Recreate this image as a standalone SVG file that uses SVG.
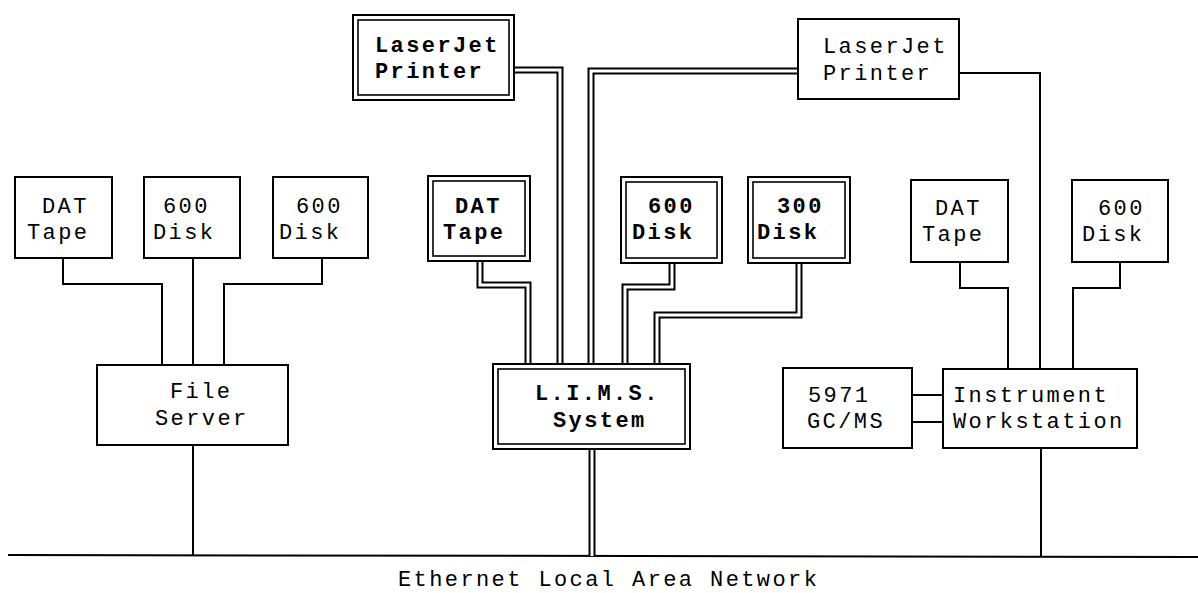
<svg xmlns="http://www.w3.org/2000/svg" width="1198" height="593" viewBox="0 0 1198 593">
<style>
.bx{fill:#fff;stroke:#000;stroke-width:2}
.in{fill:none;stroke:#000;stroke-width:1.6}
.w{fill:none;stroke:#000;stroke-width:2}
.dbo{fill:none;stroke:#000;stroke-width:7;stroke-linejoin:miter}
.dbi{fill:none;stroke:#fff;stroke-width:3;stroke-linejoin:miter}
text{font-family:"Liberation Mono","Courier New",monospace;font-size:22px;letter-spacing:2.4px;fill:#000}
.b{font-weight:bold}
</style>
<rect width="1198" height="593" fill="#fff"/>
<g id="connectors">
<path class="w" d="M63,258 V284 H162 V365 M193,258 V365 M322,258 V284 H224 V365 M193,445 V555"/>
<path class="w" d="M959,73 H1040 V369 M960,262 V288 H1008 V369 M1120,262 V288 H1073 V369 M912,395 H943 M912,422 H943 M1041,448 V557"/>
<path class="w" d="M8,555 L1198,557" stroke-width="2.5"/>
<g id="double-lines">
<path class="dbo" d="M514,70 H560 V364 M798,71 H591 V364 M480,261 V285 H528 V364 M672,263 V287 H625 V364 M799,263 V315 H657 V364 M592,449 V556"/>
<path class="dbi" d="M514,70 H560 V364 M798,71 H591 V364 M480,261 V285 H528 V364 M672,263 V287 H625 V364 M799,263 V315 H657 V364 M592,449 V556"/>
</g>
</g>
<g id="dat-left"><rect class="bx" x="15" y="177" width="97" height="81"/><text x="42" y="213">DAT</text><text x="27" y="239">Tape</text></g>
<g id="disk-left-1"><rect class="bx" x="144" y="177" width="96" height="81"/><text x="163" y="213">600</text><text x="153" y="239">Disk</text></g>
<g id="disk-left-2"><rect class="bx" x="273" y="177" width="95" height="81"/><text x="296" y="213">600</text><text x="279" y="239">Disk</text></g>
<g id="file-server"><rect class="bx" x="97" y="365" width="191" height="80"/><text x="170" y="398">File</text><text x="155" y="425">Server</text></g>
<g id="laserjet-lims"><rect class="bx" x="353" y="15" width="161" height="85"/><rect class="in" x="358" y="20" width="151" height="75"/><text class="b" x="375" y="52">LaserJet</text><text class="b" x="375" y="78">Printer</text></g>
<g id="dat-lims"><rect class="bx" x="428" y="176" width="102" height="85"/><rect class="in" x="433" y="181" width="92" height="75"/><text class="b" x="455" y="213">DAT</text><text class="b" x="443" y="239">Tape</text></g>
<g id="disk600-lims"><rect class="bx" x="621" y="177" width="101" height="86"/><rect class="in" x="626" y="182" width="91" height="76"/><text class="b" x="648" y="213">600</text><text class="b" x="632" y="239">Disk</text></g>
<g id="disk300-lims"><rect class="bx" x="748" y="177" width="102" height="86"/><rect class="in" x="753" y="182" width="92" height="76"/><text class="b" x="777" y="213">300</text><text class="b" x="757" y="239">Disk</text></g>
<g id="lims"><rect class="bx" x="493" y="364" width="197" height="85"/><rect class="in" x="498" y="369" width="187" height="75"/><text class="b" x="535" y="400">L.I.M.S.</text><text class="b" x="553" y="427">System</text></g>
<g id="laserjet-right"><rect class="bx" x="798" y="19" width="161" height="80"/><text x="823" y="53">LaserJet</text><text x="823" y="80">Printer</text></g>
<g id="dat-right"><rect class="bx" x="911" y="180" width="97" height="82"/><text x="935" y="215">DAT</text><text x="922" y="241">Tape</text></g>
<g id="disk-right"><rect class="bx" x="1072" y="180" width="96" height="82"/><text x="1098" y="215">600</text><text x="1082" y="241">Disk</text></g>
<g id="gcms"><rect class="bx" x="783" y="368" width="129" height="80"/><text x="808" y="402">5971</text><text x="807" y="428">GC/MS</text></g>
<g id="workstation"><rect class="bx" x="943" y="369" width="194" height="79"/><text x="953" y="402">Instrument</text><text x="953" y="428">Workstation</text></g>
<g id="ethernet-label"><text x="398" y="586">Ethernet Local Area Network</text></g>
</svg>
